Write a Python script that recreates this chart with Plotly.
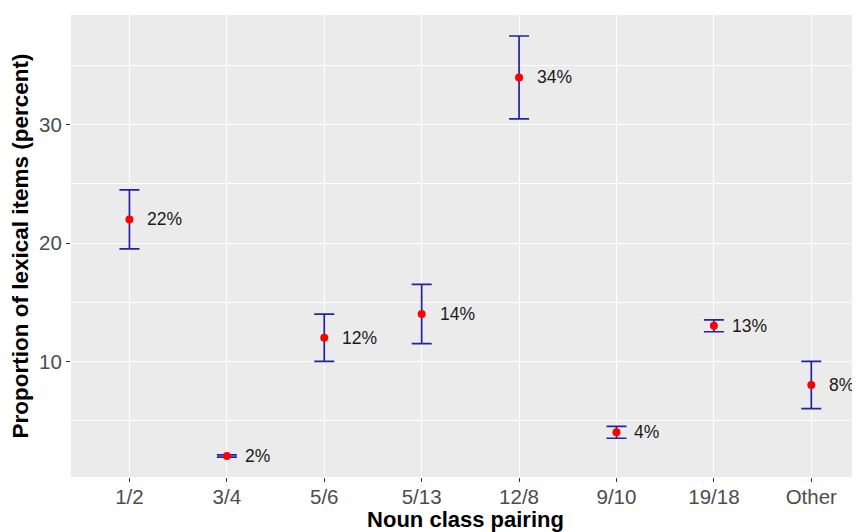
import plotly.graph_objects as go

categories = ["1/2", "3/4", "5/6", "5/13", "12/8", "9/10", "19/18", "Other"]
values = [22, 2, 12, 14, 34, 4, 13, 8]
err_lo = [2.5, 0.1, 2.0, 2.5, 3.5, 0.5, 0.5, 2.0]
err_hi = [2.5, 0.1, 2.0, 2.5, 3.5, 0.5, 0.5, 2.0]
labels = [f"{v}%" for v in values]

FONT = "Liberation Sans, Arial, Helvetica, sans-serif"

fig = go.Figure()
fig.add_trace(go.Scatter(
    x=categories, y=values, mode="markers",
    marker=dict(color="#ff0000", size=8),
    error_y=dict(type="data", symmetric=False, array=err_hi, arrayminus=err_lo,
                 color="#2323a3", thickness=1.7, width=10),
    showlegend=False, hoverinfo="skip",
))
for c, v, t in zip(categories, values, labels):
    fig.add_annotation(x=c, y=v, text=t, showarrow=False, xanchor="left",
                       xshift=16, font=dict(family=FONT, size=17.5, color="#1a1a1a"))

fig.update_layout(
    width=852, height=524,
    margin=dict(l=63, r=0, t=7, b=55),
    paper_bgcolor="white", plot_bgcolor="#ebebeb",
    font=dict(family=FONT),
)
fig.update_xaxes(
    type="category", range=[-0.6, 7.5],
    showgrid=True, gridcolor="white", gridwidth=1.3,
    ticks="outside", ticklen=4, tickcolor="#333333", tickwidth=1,
    ticklabelstandoff=-3,
    tickfont=dict(family=FONT, size=20.5, color="#4d4d4d"),
    title=dict(text="<b>Noun class pairing</b>", font=dict(family=FONT, size=22, color="black"), standoff=0),
    zeroline=False, showline=False,
)
fig.update_yaxes(
    range=[0.225, 39.275], tick0=0, dtick=10,
    showgrid=True, gridcolor="white", gridwidth=1.3,
    minor=dict(tick0=0, dtick=5, showgrid=True, gridcolor="white", gridwidth=0.6, ticklen=0),
    ticks="outside", ticklen=4, tickcolor="#333333", tickwidth=1,
    tickfont=dict(family=FONT, size=20.5, color="#4d4d4d"),
    title=dict(text="<b>Proportion of lexical items (percent)</b>", font=dict(family=FONT, size=22.5, color="black"), standoff=4),
    zeroline=False, showline=False,
)
fig.write_html("out.html")
